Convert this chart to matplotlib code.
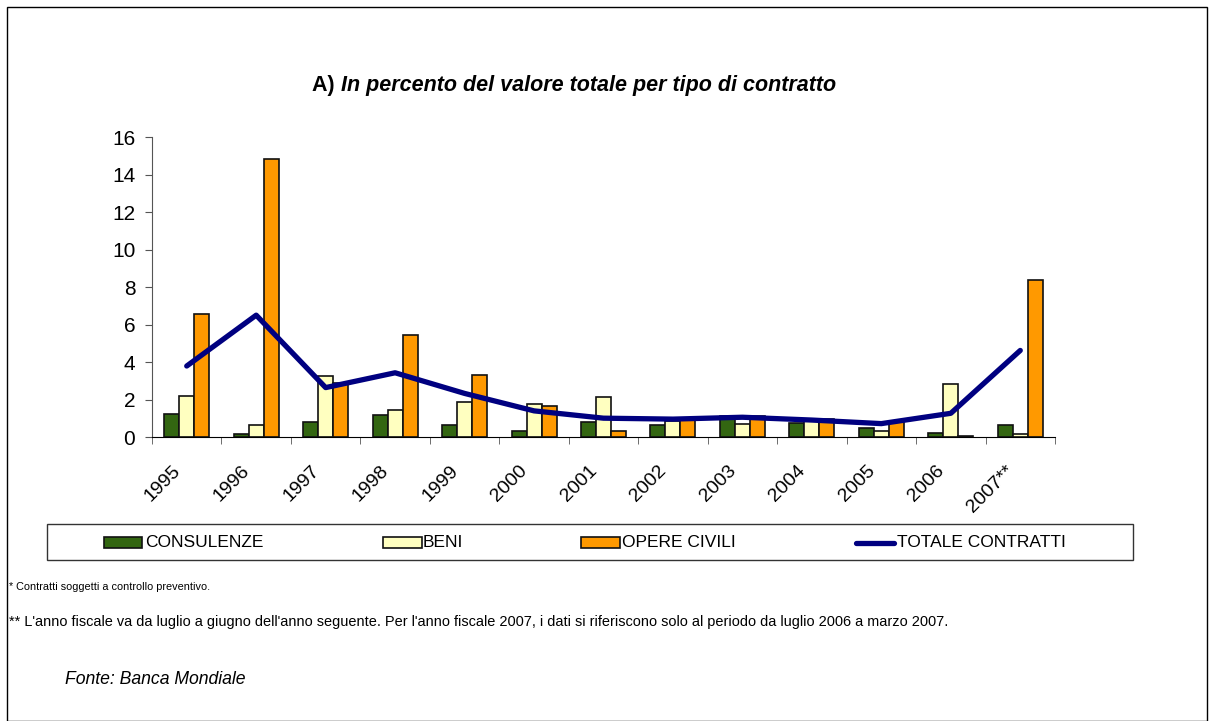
import matplotlib
matplotlib.use("Agg")
import matplotlib.pyplot as plt
from matplotlib.patches import Rectangle
from matplotlib.lines import Line2D
from matplotlib.transforms import ScaledTranslation
import numpy as np

plt.rcParams['font.family'] = ['Liberation Sans', 'DejaVu Sans']

years = ['1995', '1996', '1997', '1998', '1999', '2000', '2001',
         '2002', '2003', '2004', '2005', '2006', '2007**']
consulenze = [1.24, 0.2, 0.83, 1.18, 0.69, 0.32, 0.85, 0.64, 1.12, 0.78, 0.49, 0.26, 0.67]
beni = [2.21, 0.65, 3.26, 1.45, 1.88, 1.81, 2.16, 0.9, 0.71, 0.9, 0.32, 2.83, 0.17]
opere = [6.59, 14.85, 2.9, 5.47, 3.35, 1.7, 0.35, 0.95, 1.12, 1.0, 0.8, 0.08, 8.38]
totale = [3.81, 6.52, 2.66, 3.45, 2.35, 1.42, 1.03, 0.98, 1.08, 0.93, 0.74, 1.29, 4.64]
labels = ['CONSULENZE', 'BENI', 'OPERE CIVILI', 'TOTALE CONTRATTI']

c_green = '#336611'
c_beni = '#FFFFC0'
c_opere = '#FF9900'
c_line = '#000080'

W, H = 1214, 721
fig = plt.figure(figsize=(W / 100, H / 100), dpi=100)
ax = fig.add_axes([152 / W, 1 - 437.5 / H, (1055 - 152) / W, (437.5 - 137.3) / H])

x = np.arange(len(years))
w = 0.216
ax.bar(x - w, consulenze, w, color=c_green, edgecolor='#111111', linewidth=1.2, zorder=2)
ax.bar(x, beni, w, color=c_beni, edgecolor='#111111', linewidth=1.2, zorder=2)
ax.bar(x + w, opere, w, color=c_opere, edgecolor='#111111', linewidth=1.2, zorder=2)
ax.plot(x, totale, color=c_line, linewidth=3.8, solid_capstyle='round', zorder=3)

ax.set_xlim(-0.5, len(years) - 0.5)
ax.set_ylim(0, 16)
ax.set_yticks(range(0, 17, 2))
ax.tick_params(axis='y', labelsize=15, length=5, color='#555555', pad=7)
ax.set_xticks(x)
ax.set_xticklabels(years, rotation=45, ha='right', rotation_mode='anchor', fontsize=14)
ax.tick_params(axis='x', which='major', length=0, pad=10)
ax.set_xticks(np.arange(-0.5, len(years)), minor=True)
ax.tick_params(axis='x', which='minor', length=5, color='#555555')
shift = ScaledTranslation(-15 / 100, -11 / 100, fig.dpi_scale_trans)
for lab in ax.get_xticklabels():
    lab.set_transform(lab.get_transform() + shift)
for s in ['top', 'right']:
    ax.spines[s].set_visible(False)
ax.spines['left'].set_color('#555555')
ax.spines['bottom'].set_color('black')

# title: "A)" upright bold, the rest bold italic
t1 = fig.text(312 / W, 1 - 86 / H, 'A) ', fontsize=15.5, fontweight='bold', va='center')
fig.canvas.draw()
bb = t1.get_window_extent()
fig.text(bb.x1 / W, 1 - 86 / H, 'In percento del valore totale per tipo di contratto',
         fontsize=15.5, fontweight='bold', style='italic', va='center')

# legend box with items at the reference positions
fig.patches.append(Rectangle((47 / W, 1 - 560 / H), (1133 - 47) / W, 36 / H,
                             transform=fig.transFigure, fill=False,
                             edgecolor='#333333', linewidth=1))
yl = 1 - 542.5 / H
for (x0, x1), col in zip([(104, 142), (383, 422), (581, 620)], [c_green, c_beni, c_opere]):
    fig.patches.append(Rectangle((x0 / W, 1 - 548 / H), (x1 - x0) / W, 11 / H,
                                 transform=fig.transFigure, facecolor=col,
                                 edgecolor='#111111', linewidth=1.2))
fig.lines.append(Line2D([856 / W, 894 / W], [yl, yl], transform=fig.transFigure,
                        color=c_line, linewidth=3.8, solid_capstyle='round'))
for xt, lab in zip([145, 423, 622, 897], labels):
    fig.text(xt / W, yl, lab, fontsize=12.5, va='center')

fig.text(9 / W, 1 - 587 / H, '* Contratti soggetti a controllo preventivo.',
         fontsize=7.8, va='center')
fig.text(9 / W, 1 - 622 / H,
         "** L'anno fiscale va da luglio a giugno dell'anno seguente. Per l'anno fiscale 2007, "
         "i dati si riferiscono solo al periodo da luglio 2006 a marzo 2007.",
         fontsize=10.45, va='center')
fig.text(65 / W, 1 - 680 / H, 'Fonte: Banca Mondiale', fontsize=12.7, style='italic', va='center')

fig.patches.append(Rectangle((7 / W, 0), 1200 / W, 1 - 7 / H, transform=fig.transFigure,
                             fill=False, edgecolor='black', linewidth=1))

fig.savefig('out.png', dpi=100)
